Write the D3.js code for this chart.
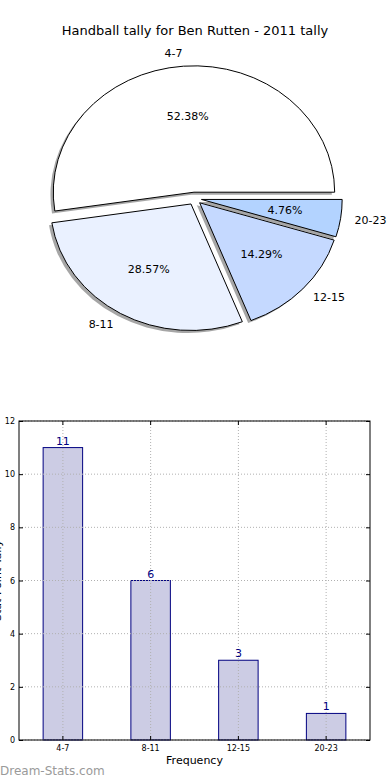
<!DOCTYPE html>
<html>
<head>
<meta charset="utf-8">
<script src="https://cdn.jsdelivr.net/npm/d3@7"></script>
<style>
  html, body { margin: 0; padding: 0; background: #fff; }
  svg { display: block; font-family: "DejaVu Sans", sans-serif; }
</style>
</head>
<body>
<svg id="chart" width="390" height="780"></svg>
<script>
// ---- data ----
const title = "Handball tally for Ben Rutten - 2011 tally";
const categories = ["4-7", "8-11", "12-15", "20-23"];
const counts = [11, 6, 3, 1];
const pieColors = ["#ffffff", "#eaf1ff", "#c5d9ff", "#b3d3ff"];
const yTicks = [0, 2, 4, 6, 8, 10, 12];
const xLabel = "Frequency";
const yLabel = "Stat Point Tally";
const watermark = "Dream-Stats.com";

(function () {
const svg = d3.select("#chart");

// ---- title ----
svg.append("text")
  .attr("x", 195).attr("y", 30)
  .attr("text-anchor", "middle").attr("dominant-baseline", "central")
  .attr("font-size", 13).attr("fill", "#000")
  .text(title);

// ---- pie (elliptical, exploded, shadowed) ----
const cx = 194.5, cy = 198.5, rx = 140.7, ry = 126.5;
const explode = 0.05;
const total = d3.sum(counts);
const pie = d3.pie().sort(null).value(d => d)
  .startAngle(Math.PI / 2).endAngle(Math.PI / 2 - 2 * Math.PI);
const arcs = pie(counts);
const arcGen = d3.arc().innerRadius(0).outerRadius(1);

const pieG = svg.append("g");
arcs.forEach((a, i) => {
  const mid = (a.startAngle + a.endAngle) / 2;
  const ex = cx + explode * rx * Math.sin(mid);
  const ey = cy - explode * ry * Math.cos(mid);
  pieG.append("path")
    .attr("d", arcGen(a))
    .attr("transform", `translate(${ex - 0.02 * rx},${ey + 0.02 * ry}) scale(${rx},${ry})`)
    .attr("fill", "#4d4d4d").attr("fill-opacity", 0.5)
    .attr("stroke", "none");
});
arcs.forEach((a, i) => {
  const mid = (a.startAngle + a.endAngle) / 2;
  const ex = cx + explode * rx * Math.sin(mid);
  const ey = cy - explode * ry * Math.cos(mid);
  pieG.append("path")
    .attr("d", arcGen(a))
    .attr("transform", `translate(${ex},${ey}) scale(${rx},${ry})`)
    .attr("fill", pieColors[i])
    .attr("stroke", "#000").attr("stroke-width", 1)
    .attr("vector-effect", "non-scaling-stroke")
    .attr("stroke-linejoin", "miter");
});
arcs.forEach((a, i) => {
  const mid = (a.startAngle + a.endAngle) / 2;
  const s = Math.sin(mid), c = Math.cos(mid);
  const ex = cx + explode * rx * s;
  const ey = cy - explode * ry * c;
  pieG.append("text")
    .attr("x", ex + 1.1 * rx * s).attr("y", ey - 1.1 * ry * c)
    .attr("text-anchor", s < 0 ? "end" : "start")
    .attr("dominant-baseline", "central")
    .attr("font-size", 11).attr("fill", "#000")
    .text(categories[i]);
  pieG.append("text")
    .attr("x", ex + 0.6 * rx * s).attr("y", ey - 0.6 * ry * c)
    .attr("text-anchor", "middle")
    .attr("dominant-baseline", "central")
    .attr("font-size", 11).attr("fill", "#000")
    .text((counts[i] / total * 100).toFixed(2) + "%");
});

// ---- bar chart ----
const pL = 19, pR = 370, pT = 421, pB = 740;
const x = d3.scaleBand().domain(categories).range([pL, pR]).padding(0);
const y = d3.scaleLinear().domain([0, 12]).range([pB, pT]);
const barW = x.step() * 0.45;
const g = svg.append("g");

// bars
g.selectAll(".bar").data(counts).join("rect")
  .attr("x", (d, i) => x(categories[i]) + (x.step() - barW) / 2)
  .attr("y", d => y(d))
  .attr("width", barW)
  .attr("height", d => pB - y(d))
  .attr("fill", "#ccccE4").attr("stroke", "#000080").attr("stroke-width", 1);

// grid (drawn above bars)
g.selectAll(".hgrid").data(yTicks).join("line")
  .attr("x1", pL).attr("x2", pR)
  .attr("y1", d => y(d)).attr("y2", d => y(d))
  .attr("stroke", "#b0b0b0").attr("stroke-width", 1)
  .attr("stroke-dasharray", "1,2");
g.selectAll(".vgrid").data(categories).join("line")
  .attr("x1", d => x(d) + x.bandwidth() / 2).attr("x2", d => x(d) + x.bandwidth() / 2)
  .attr("y1", pT).attr("y2", pB)
  .attr("stroke", "#b0b0b0").attr("stroke-width", 1)
  .attr("stroke-dasharray", "1,2");

// value labels
g.selectAll(".val").data(counts).join("text")
  .attr("x", (d, i) => x(categories[i]) + x.bandwidth() / 2)
  .attr("y", d => y(d) - 3)
  .attr("text-anchor", "middle")
  .attr("font-size", 11).attr("fill", "#000080")
  .text(d => d);

// frame
g.append("rect")
  .attr("x", pL).attr("y", pT).attr("width", pR - pL).attr("height", pB - pT)
  .attr("fill", "none").attr("stroke", "#000").attr("stroke-width", 1);

// axes
const gy = g.append("g").attr("transform", `translate(${pL},0)`)
  .call(d3.axisLeft(y).tickValues(yTicks).tickSize(-4).tickPadding(4));
gy.select(".domain").remove();
gy.selectAll("text").attr("font-size", 8).attr("font-family", "DejaVu Sans, sans-serif");
const gyr = g.append("g").attr("transform", `translate(${pR},0)`)
  .call(d3.axisRight(y).tickValues(yTicks).tickSize(-4).tickFormat(""));
gyr.select(".domain").remove();

const gx = g.append("g").attr("transform", `translate(0,${pB})`)
  .call(d3.axisBottom(x).tickSize(-4).tickPadding(5));
gx.select(".domain").remove();
gx.selectAll("text").attr("font-size", 8).attr("font-family", "DejaVu Sans, sans-serif");
const gxt = g.append("g").attr("transform", `translate(0,${pT})`)
  .call(d3.axisTop(x).tickSize(-4).tickFormat(""));
gxt.select(".domain").remove();

// axis labels
svg.append("text")
  .attr("x", (pL + pR) / 2).attr("y", 760)
  .attr("text-anchor", "middle").attr("dominant-baseline", "central")
  .attr("font-size", 11).attr("fill", "#000")
  .text(xLabel);
svg.append("text")
  .attr("transform", `translate(-3,${(pT + pB) / 2}) rotate(-90)`)
  .attr("text-anchor", "middle").attr("dominant-baseline", "central")
  .attr("font-size", 11).attr("fill", "#000")
  .text(yLabel);

// watermark
svg.append("text")
  .attr("x", 0).attr("y", 771)
  .attr("dominant-baseline", "central")
  .attr("font-size", 12).attr("fill", "#9a9a9a")
  .text(watermark);
})();
</script>
</body>
</html>
